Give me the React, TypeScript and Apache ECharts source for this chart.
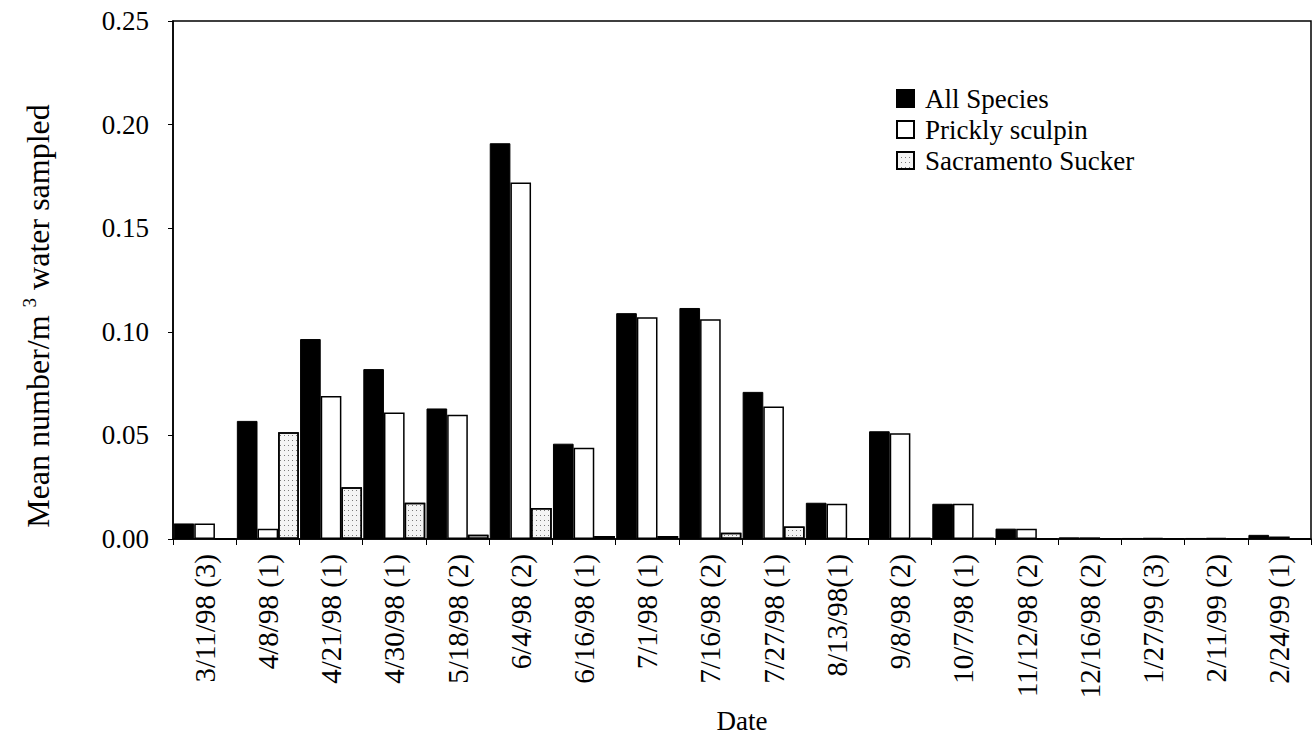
import React, { useEffect, useRef } from "react";
import * as echarts from "echarts";

const categories = [
  "3/11/98 (3)", "4/8/98 (1)", "4/21/98 (1)", "4/30/98 (1)", "5/18/98 (2)",
  "6/4/98 (2)", "6/16/98 (1)", "7/1/98 (1)", "7/16/98 (2)", "7/27/98 (1)",
  "8/13/98(1)", "9/8/98 (2)", "10/7/98 (1)", "11/12/98 (2)", "12/16/98 (2)",
  "1/27/99 (3)", "2/11/99 (2)", "2/24/99 (1)",
];
const allSpecies = [0.0075, 0.057, 0.0965, 0.082, 0.063, 0.191, 0.046, 0.109, 0.1115, 0.071, 0.0175, 0.052, 0.017, 0.005, 0.0008, 0.0005, 0.0005, 0.002];
const pricklySculpin = [0.0075, 0.005, 0.069, 0.061, 0.06, 0.172, 0.044, 0.107, 0.106, 0.064, 0.017, 0.051, 0.017, 0.005, 0.0008, 0.0005, 0.0005, 0.0012];
const sacramentoSucker = [0, 0.0515, 0.025, 0.0175, 0.002, 0.015, 0.0015, 0.0015, 0.003, 0.006, 0, 0.0005, 0.0005, 0.0003, 0.0003, 0.0003, 0.0003, 0];
const seriesNames = ["All Species", "Prickly sculpin", "Sacramento Sucker"];
const yTitleMain = "Mean number/m ";
const yTitleSup = "3";
const yTitleRest = " water sampled";

const FONT = "Liberation Serif";

export default function App() {
  const ref = useRef<HTMLDivElement>(null);
  useEffect(() => {
    if (!ref.current) return;
    const chart = echarts.init(ref.current, null, { renderer: "svg" });
    chart.setOption({
      animation: false,
      backgroundColor: "#ffffff",
      textStyle: { fontFamily: FONT, color: "#000" },
      grid: {
        left: 173, right: 3, top: 21, bottom: 200,
        outerBoundsMode: "none",
        containLabel: false,
        show: true, borderColor: "#000", borderWidth: 1.5, backgroundColor: "transparent",
      },
      legend: {
        orient: "vertical",
        left: 896, top: 85,
        padding: 0,
        icon: "rect",
        itemWidth: 17, itemHeight: 17, itemGap: 4,
        textStyle: { fontFamily: FONT, fontSize: 27, color: "#000", padding: [0, 0, 0, 6] },
        data: seriesNames,
      },
      graphic: [
        {
          type: "text",
          x: 38, y: 316,
          rotation: Math.PI / 2,
          style: {
            text: `${yTitleMain}{sup|${yTitleSup}}${yTitleRest}`,
            fontFamily: FONT, fontSize: 32, fill: "#000",
            align: "center", verticalAlign: "middle",
            rich: { sup: { fontFamily: FONT, fontSize: 19, verticalAlign: "top", lineHeight: 36, fill: "#000" } },
          },
        },
      ],
      xAxis: {
        type: "category",
        data: categories,
        name: "Date",
        nameLocation: "middle",
        nameGap: 168,
        nameTextStyle: { fontFamily: FONT, fontSize: 27, color: "#000" },
        axisLine: { lineStyle: { color: "#000", width: 1.5 } },
        axisTick: { show: true, length: 6, lineStyle: { color: "#000" } },
        axisLabel: { rotate: 90, fontFamily: FONT, fontSize: 29, color: "#000", margin: 15, interval: 0 },
      },
      yAxis: {
        type: "value",
        min: 0, max: 0.25, interval: 0.05,
        splitLine: { show: false },
        axisLine: { show: true, lineStyle: { color: "#000", width: 1.5 } },
        axisTick: { show: true, length: 5, lineStyle: { color: "#000" } },
        axisLabel: {
          fontFamily: FONT, fontSize: 27, color: "#000", margin: 24,
          formatter: (v: number) => v.toFixed(2),
        },
      },
      series: [
        {
          name: seriesNames[0], type: "bar", data: allSpecies,
          barGap: "0%", barCategoryGap: "2%",
          itemStyle: { color: "#000", borderColor: "#000", borderWidth: 1 },
        },
        {
          name: seriesNames[1], type: "bar", data: pricklySculpin,
          barGap: "0%", barCategoryGap: "2%",
          itemStyle: { color: "#fff", borderColor: "#000", borderWidth: 1.5 },
        },
        {
          name: seriesNames[2], type: "bar", data: sacramentoSucker,
          barGap: "0%", barCategoryGap: "2%",
          itemStyle: {
            color: "#f4f4f4", borderColor: "#000", borderWidth: 1.5,
            decal: {
              symbol: "rect", symbolSize: 1, color: "rgba(0,0,0,0.5)",
              dashArrayX: [1, 3], dashArrayY: [1, 4], rotation: 0,
            },
          },
        },
      ],
    });
    return () => chart.dispose();
  }, []);
  return <div ref={ref} style={{ position: "absolute", left: 0, top: 0, width: 1314, height: 739 }} />;
}
